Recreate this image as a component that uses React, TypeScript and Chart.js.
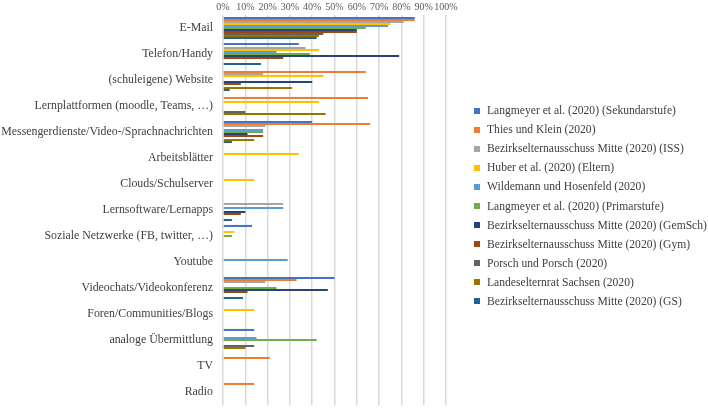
import React, { useEffect, useRef } from "react";
import { Chart, registerables } from "chart.js";

Chart.register(...registerables);

const categories = [
  "E-Mail",
  "Telefon/Handy",
  "(schuleigene) Website",
  "Lernplattformen (moodle, Teams, …)",
  "Messengerdienste/Video-/Sprachnachrichten",
  "Arbeitsblätter",
  "Clouds/Schulserver",
  "Lernsoftware/Lernapps",
  "Soziale Netzwerke (FB, twitter, …)",
  "Youtube",
  "Videochats/Videokonferenz",
  "Foren/Communities/Blogs",
  "analoge Übermittlung",
  "TV",
  "Radio",
];

const seriesNames = [
  "Langmeyer et al. (2020) (Sekundarstufe)",
  "Thies und Klein (2020)",
  "Bezirkselternausschuss Mitte (2020) (ISS)",
  "Huber et al. (2020) (Eltern)",
  "Wildemann und Hosenfeld (2020)",
  "Langmeyer et al. (2020) (Primarstufe)",
  "Bezirkselternausschuss Mitte (2020) (GemSch)",
  "Bezirkselternausschuss Mitte (2020) (Gym)",
  "Porsch und Porsch (2020)",
  "Landeselternrat Sachsen (2020)",
  "Bezirkselternausschuss Mitte (2020) (GS)",
];

const seriesColors = [
  "#4472C4",
  "#ED7D31",
  "#A5A5A5",
  "#FFC000",
  "#5B9BD5",
  "#70AD47",
  "#264478",
  "#9E480E",
  "#636363",
  "#997300",
  "#255E91",
];

const langmeyerSek = [86, 34, null, null, 40, null, null, null, 13, null, 50, null, 14, null, null];
const thiesKlein = [86, null, 64, 65, 66, null, null, null, null, null, 33, null, null, 21, 14];
const beaIss = [81, 37, 18, null, 19, null, null, 27, null, null, 19, null, null, null, null];
const huberEltern = [75, 43, 45, 43, null, 34, 14, null, 5, null, null, 14, null, null, null];
const wildemann = [74, 24, null, null, 18, null, null, 27, null, 29, null, null, 15, null, null];
const langmeyerPrim = [64, 39, null, null, 18, null, null, null, 4, null, 24, null, 42, null, null];
const beaGemSch = [60, 79, 40, null, 11, null, null, 10, null, null, 47, null, null, null, null];
const beaGym = [60, 27, 8, null, 18, null, null, 8, null, null, 11, null, null, null, null];
const porsch = [45, null, null, 10, null, null, null, null, null, null, null, null, 14, null, null];
const landeselternrat = [43, null, 31, 46, 14, null, null, null, null, null, null, null, 10, null, null];
const beaGs = [42, 17, 3, null, 4, null, null, 4, null, null, 9, null, null, null, null];

const seriesValues = [
  langmeyerSek,
  thiesKlein,
  beaIss,
  huberEltern,
  wildemann,
  langmeyerPrim,
  beaGemSch,
  beaGym,
  porsch,
  landeselternrat,
  beaGs,
];

const xTicks = [0, 10, 20, 30, 40, 50, 60, 70, 80, 90, 100];

const FONT = "'Liberation Serif', 'Times New Roman', serif";

export default function App() {
  const canvasRef = useRef<HTMLCanvasElement | null>(null);

  useEffect(() => {
    if (!canvasRef.current) return;
    const chart = new Chart(canvasRef.current, {
      type: "bar",
      data: {
        labels: categories,
        datasets: seriesNames.map((name, i) => ({
          label: name,
          data: seriesValues[i],
          backgroundColor: seriesColors[i],
          borderWidth: 0,
          barPercentage: 1,
          categoryPercentage: 0.85,
        })),
      },
      options: {
        indexAxis: "y",
        animation: false,
        responsive: false,
        devicePixelRatio: 1,
        layout: { padding: { left: 0, right: 262, top: 0, bottom: 3 } },
        plugins: {
          legend: { display: false },
          tooltip: { enabled: false },
        },
        scales: {
          x: {
            type: "linear",
            position: "top",
            min: 0,
            max: 100,
            afterBuildTicks: (scale: any) => {
              scale.ticks = xTicks.map((v) => ({ value: v }));
            },
            afterFit: (scale: any) => {
              scale.height = 15;
            },
            ticks: {
              callback: (v: any) => v + "%",
              font: { family: FONT, size: 10 },
              color: "#595959",
              padding: 2,
              maxRotation: 0,
              autoSkip: false,
            },
            grid: { color: "#d9d9d9", lineWidth: 1.5, drawTicks: false },
            border: { display: false },
          },
          y: {
            type: "category",
            afterFit: (scale: any) => {
              scale.width = 223;
            },
            ticks: {
              font: { family: FONT, size: 11.85, lineHeight: 0.5 },
              color: "#404040",
              padding: 0,
              autoSkip: false,
            },
            grid: { display: false, drawTicks: true, tickLength: 10 },
            border: { display: false },
          },
        },
      },
    });
    return () => chart.destroy();
  }, []);

  return (
    <div style={{ position: "absolute", left: 0, top: 0, width: 708, height: 408, background: "#fff", overflow: "hidden" }}>
      <canvas ref={canvasRef} width={708} height={408} style={{ display: "block" }} />
      <div style={{ position: "absolute", left: 474, top: 101, fontFamily: FONT, fontSize: 11.6, color: "#404040" }}>
        {seriesNames.map((name, i) => (
          <div
            key={name}
            style={{ display: "flex", alignItems: "center", height: 19.1, whiteSpace: "nowrap" }}
          >
            <span style={{ display: "inline-block", width: 6, height: 6, background: seriesColors[i], marginRight: 7 }} />
            <span>{name}</span>
          </div>
        ))}
      </div>
    </div>
  );
}
